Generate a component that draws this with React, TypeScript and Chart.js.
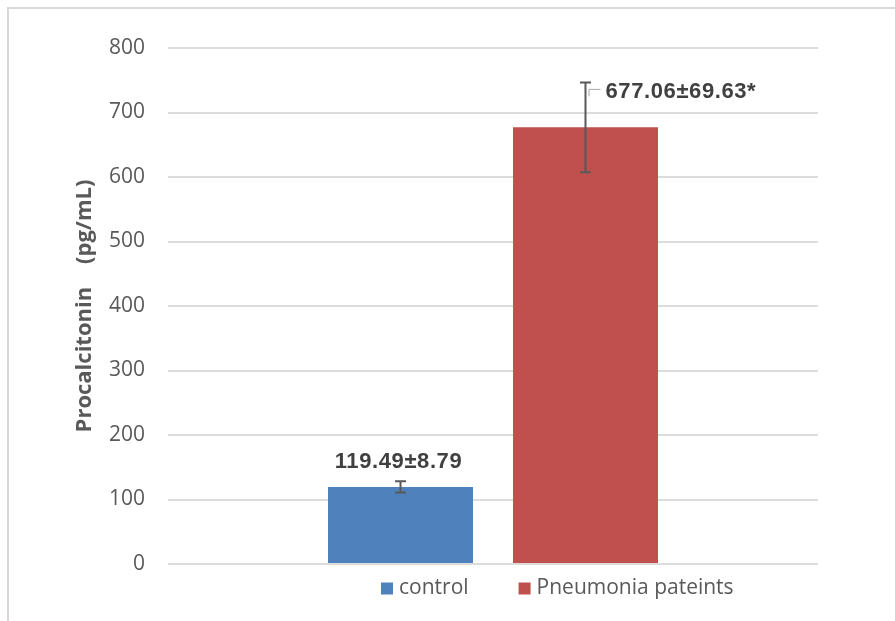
import React, { useEffect, useRef } from "react";
import { Chart, registerables } from "chart.js";

Chart.register(...registerables);

const categories = [""];
const seriesNames = ["control", "Pneumonia pateints"];
const seriesColors = ["#4F81BD", "#C0504D"];
const means = [119.49, 677.06];
const errors = [8.79, 69.63];
const valueLabels = ["119.49±8.79", "677.06±69.63*"];
const yMin = 0;
const yMax = 800;
const yStep = 100;
const yTitle = "Procalcitonin    (pg/mL)";

const errorBarPlugin = {
  id: "errorBars",
  afterDatasetsDraw(chart: any) {
    const ctx = chart.ctx;
    const yScale = chart.scales.y;
    ctx.save();
    chart.data.datasets.forEach((ds: any, i: number) => {
      const meta = chart.getDatasetMeta(i);
      meta.data.forEach((bar: any, j: number) => {
        const v = ds.data[j];
        const e = errors[i];
        const x = bar.x;
        const yt = yScale.getPixelForValue(v + e);
        const yb = yScale.getPixelForValue(v - e);
        ctx.strokeStyle = "#595959";
        ctx.lineWidth = 2;
        ctx.beginPath();
        ctx.moveTo(x, yt);
        ctx.lineTo(x, yb);
        ctx.moveTo(x - 5.5, yt);
        ctx.lineTo(x + 5.5, yt);
        ctx.moveTo(x - 5.5, yb);
        ctx.lineTo(x + 5.5, yb);
        ctx.stroke();

        ctx.fillStyle = "#404040";
        ctx.font = 'bold 22px "Liberation Sans"';
        (ctx as any).letterSpacing = "0.6px";
        ctx.textBaseline = "middle";
        if (i === 0) {
          ctx.textAlign = "center";
          ctx.fillText(valueLabels[i], x - 2, yt - 19);
        } else {
          ctx.textAlign = "left";
          ctx.fillText(valueLabels[i], x + 20, yt + 10);
          ctx.strokeStyle = "#a6a6a6";
          ctx.lineWidth = 1;
          ctx.beginPath();
          ctx.moveTo(x + 3.5, yt + 14);
          ctx.lineTo(x + 3.5, yt + 7);
          ctx.lineTo(x + 15, yt + 7);
          ctx.stroke();
        }
        (ctx as any).letterSpacing = "0px";
      });
    });
    ctx.restore();
  },
};

const legendPlugin = {
  id: "customLegend",
  afterDraw(chart: any) {
    const ctx = chart.ctx;
    const area = chart.chartArea;
    ctx.save();
    ctx.font = '21px "Open Sans"';
    ctx.textBaseline = "middle";
    ctx.textAlign = "left";
    let x = area.left + 213;
    const yMid = area.bottom + 24.5;
    chart.data.datasets.forEach((ds: any) => {
      ctx.fillStyle = ds.backgroundColor;
      ctx.fillRect(x, yMid - 6, 12, 12);
      ctx.fillStyle = "#595959";
      ctx.fillText(ds.label, x + 18, yMid);
      const w = ctx.measureText(ds.label).width;
      x += 18 + w + 50;
    });
    ctx.restore();
  },
};

export default function App() {
  const canvasRef = useRef<HTMLCanvasElement | null>(null);

  useEffect(() => {
    document.documentElement.style.overflow = "hidden";
    document.body.style.overflow = "hidden";
    if (!canvasRef.current) return;
    const chart = new Chart(canvasRef.current, {
      type: "bar",
      data: {
        labels: categories,
        datasets: seriesNames.map((name, i) => ({
          label: name,
          data: [means[i]],
          backgroundColor: seriesColors[i],
          categoryPercentage: 0.5692,
          barPercentage: 0.7838,
        })),
      },
      options: {
        animation: false,
        responsive: false,
        maintainAspectRatio: false,
        layout: { padding: { left: 0, right: 77, top: 39, bottom: 57 } },
        plugins: {
          legend: { display: false },
          tooltip: { enabled: false },
        },
        scales: {
          x: { display: false },
          y: {
            min: yMin,
            max: yMax,
            ticks: {
              stepSize: yStep,
              padding: 23,
              color: "#595959",
              font: { family: "Open Sans", size: 21 },
            },
            grid: { color: "#dcdcdc", lineWidth: 2, drawTicks: false },
            border: { display: false },
            title: {
              display: true,
              text: yTitle,
              color: "#595959",
              font: { family: "Open Sans", size: 22, weight: "bold" },
              padding: { top: 63, bottom: 0 },
            },
            afterFit(scale: any) {
              scale.width = 159;
            },
          },
        },
      },
      plugins: [errorBarPlugin, legendPlugin],
    });
    return () => chart.destroy();
  }, []);

  return (
    <div
      style={{
        position: "absolute",
        left: 7,
        top: 7,
        width: 886,
        height: 612,
        borderTop: "2px solid #d9d9d9",
        borderLeft: "2px solid #d9d9d9",
        background: "#fff",
      }}
    >
      <canvas ref={canvasRef} width={886} height={612} style={{ display: "block" }} />
    </div>
  );
}
